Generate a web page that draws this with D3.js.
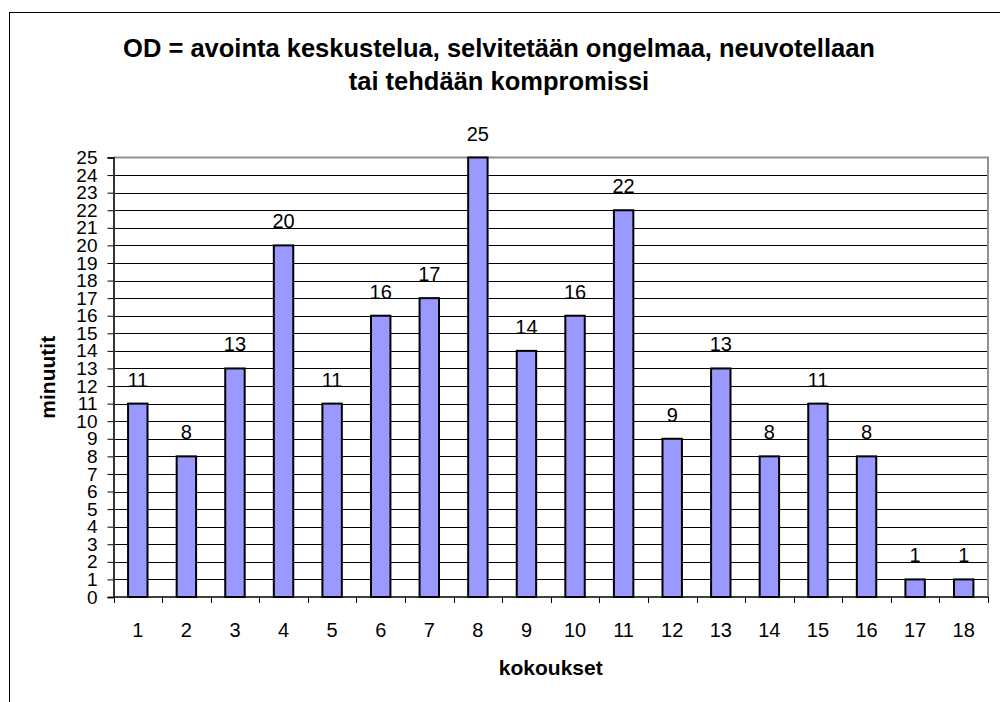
<!DOCTYPE html>
<html>
<head>
<meta charset="utf-8">
<script src="https://cdn.jsdelivr.net/npm/d3@7"></script>
<style>
  body { margin: 0; background: #fff; }
  svg { display: block; font-family: "Liberation Sans", Arial, sans-serif; }
</style>
</head>
<body>
<script>
// data
var categories = ["1","2","3","4","5","6","7","8","9","10","11","12","13","14","15","16","17","18"];
var minutes = [11, 8, 13, 20, 11, 16, 17, 25, 14, 16, 22, 9, 13, 8, 11, 8, 1, 1];
var yTicks = d3.range(0, 26);
var titleLines = ["OD = avointa keskustelua, selvitetään ongelmaa, neuvotellaan", "tai tehdään kompromissi"];

var width = 1000, height = 702;
var plotLeft = 113.5, plotRight = 988, plotTop = 157.5, plotBottom = 597;

var svg = d3.select("body").append("svg")
  .attr("width", width)
  .attr("height", height);

// outer chart border (runs off the picture right and bottom)
svg.append("rect")
  .attr("x", 9.5).attr("y", 12.5)
  .attr("width", 1100).attr("height", 800)
  .attr("fill", "#fff")
  .attr("stroke", "#000");

var x = d3.scaleBand()
  .domain(categories)
  .range([plotLeft, plotRight])
  .paddingInner(0.6)
  .paddingOuter(0.3);

var xEdge = d3.scaleLinear().domain([0, categories.length]).range([plotLeft, plotRight]);

var y = d3.scaleLinear()
  .domain([0, 25])
  .range([plotBottom, plotTop]);

// gridlines
svg.append("g")
  .selectAll("line")
  .data(yTicks.slice(1, -1))
  .join("line")
    .attr("x1", plotLeft).attr("x2", plotRight)
    .attr("y1", d => Math.round(y(d)) + 0.5)
    .attr("y2", d => Math.round(y(d)) + 0.5)
    .attr("stroke", "#000")
    .attr("stroke-width", 1);

// plot area border top/right (gray)
svg.append("path")
  .attr("d", "M" + plotLeft + "," + plotTop + "H" + plotRight + "V" + plotBottom)
  .attr("fill", "none")
  .attr("stroke", "#909090")
  .attr("stroke-width", 2);

// y axis
var yAxis = d3.axisLeft(y)
  .tickValues(yTicks)
  .tickSize(6)
  .tickPadding(10)
  .tickFormat(d3.format("d"));

var gy = svg.append("g")
  .attr("transform", "translate(" + plotLeft + ",0)")
  .call(yAxis);
gy.select(".domain").attr("stroke", "#333").attr("stroke-width", 2);
gy.selectAll(".tick line").attr("stroke", "#000");
gy.selectAll(".tick text")
  .attr("font-size", 19)
  .attr("font-family", "Liberation Sans, Arial, sans-serif")
  .attr("fill", "#000");

// x axis: ticks at category edges
var gx = svg.append("g")
  .attr("transform", "translate(0," + plotBottom + ")");
gx.append("line")
  .attr("x1", plotLeft).attr("x2", plotRight)
  .attr("stroke", "#000").attr("stroke-width", 1.5);
gx.selectAll(".edge")
  .data(d3.range(0, categories.length + 1))
  .join("line")
    .attr("class", "edge")
    .attr("x1", d => Math.round(xEdge(d)) + 0.5)
    .attr("x2", d => Math.round(xEdge(d)) + 0.5)
    .attr("y1", 0).attr("y2", 6)
    .attr("stroke", "#000");
gx.selectAll(".lab")
  .data(categories)
  .join("text")
    .attr("class", "lab")
    .attr("x", d => x(d) + x.bandwidth() / 2)
    .attr("y", 40)
    .attr("text-anchor", "middle")
    .attr("font-size", 20)
    .text(d => d);

// bars
svg.append("g")
  .selectAll("rect")
  .data(minutes)
  .join("rect")
    .attr("x", (d, i) => x(categories[i]))
    .attr("y", d => y(d))
    .attr("width", x.bandwidth())
    .attr("height", d => y(0) - y(d))
    .attr("fill", "#9999ff")
    .attr("stroke", "#000")
    .attr("stroke-width", 2);

// value labels
svg.append("g")
  .selectAll("text")
  .data(minutes)
  .join("text")
    .attr("x", (d, i) => x(categories[i]) + x.bandwidth() / 2)
    .attr("y", d => y(d) - 17)
    .attr("text-anchor", "middle")
    .attr("font-size", 20)
    .text(d => d);

// title
svg.append("g")
  .selectAll("text")
  .data(titleLines)
  .join("text")
    .attr("x", 499)
    .attr("y", (d, i) => 57 + i * 33)
    .attr("text-anchor", "middle")
    .attr("font-size", 25.5)
    .attr("font-weight", "bold")
    .text(d => d);

// axis titles
svg.append("text")
  .attr("transform", "translate(55," + ((plotTop + plotBottom) / 2) + ") rotate(-90)")
  .attr("text-anchor", "middle")
  .attr("font-size", 21)
  .attr("font-weight", "bold")
  .text("minuutit");

svg.append("text")
  .attr("x", (plotLeft + plotRight) / 2)
  .attr("y", 675)
  .attr("text-anchor", "middle")
  .attr("font-size", 21)
  .attr("font-weight", "bold")
  .text("kokoukset");
</script>
</body>
</html>
